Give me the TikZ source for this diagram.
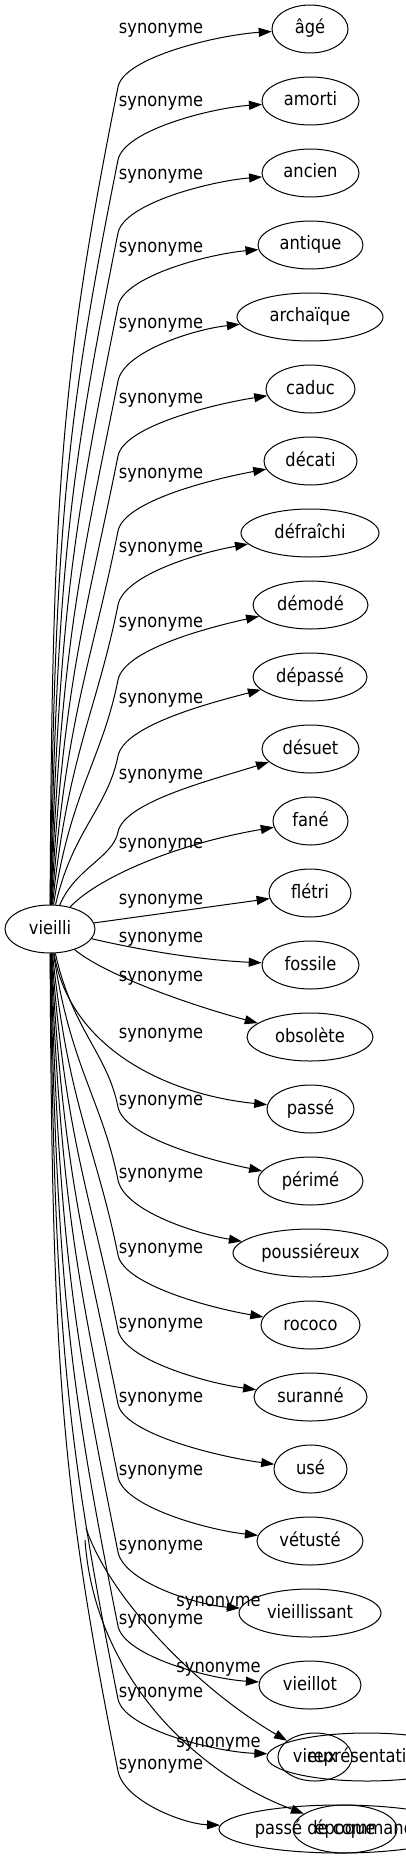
\documentclass[tikz,border=0pt]{standalone}
\usepackage{fontspec}
\setmainfont{DejaVu Sans}[FakeStretch=0.88]
\usetikzlibrary{shapes.geometric,arrows.meta}
\newcommand\upedge[3]{%
  \pgfmathsetmacro\edgD{905-#2}%
  \pgfmathsetmacro\edgax{52+25*(1-\edgD/820)}%
  \pgfmathsetmacro\edgay{905-0.5*\edgD}%
  \pgfmathsetmacro\edgbx{118-0.07*\edgD}%
  \pgfmathsetmacro\edgby{#2+0.35*\edgD}%
  \pgfmathsetmacro\edgdx{#3-0.35*(#3-118)}%
  \pgfmathsetmacro\edgdy{#2-52}%
  \coordinate (q#1) at (118,#2);%
  \draw[edge] (v) .. controls (\edgax,\edgay) and (\edgbx,\edgby) .. (q#1)
     .. controls (124,{#2-30}) and (\edgdx,\edgdy) .. (#1);%
}
\newcommand\downedge[3]{%
  \pgfmathsetmacro\edgD{#2-953}%
  \pgfmathsetmacro\edgax{52+25*(1-\edgD/820)}%
  \pgfmathsetmacro\edgay{953+0.5*\edgD}%
  \pgfmathsetmacro\edgbx{118-0.07*\edgD}%
  \pgfmathsetmacro\edgby{#2-0.35*\edgD}%
  \pgfmathsetmacro\edgdx{#3-0.35*(#3-118)}%
  \pgfmathsetmacro\edgdy{#2+53}%
  \coordinate (q#1) at (118,#2);%
  \draw[edge] (v) .. controls (\edgax,\edgay) and (\edgbx,\edgby) .. (q#1)
     .. controls (124,{#2+30}) and (\edgdx,\edgdy) .. (#1);%
}
\begin{document}
\begin{tikzpicture}[x=1pt,y=-1pt,
  every node/.style={font=\fontsize{18.5pt}{20pt}\selectfont, text height=14pt, text depth=4pt, inner sep=0pt},
  term/.style={draw, ellipse, line width=1pt, minimum height=48pt},
  lbl/.style={fill=none},
  edge/.style={line width=1pt, -{Triangle[length=13pt,width=9pt]}}]
\useasboundingbox (0,0) rectangle (406,1859);
\clip (0,0) rectangle (406,1859);

% centre node
\node[term, minimum width=90pt] (v) at (50,929) {vieilli};

% synonyms
\node[term, minimum width=76pt]  (n0)  at (310,29)    {âgé};
\node[term, minimum width=97pt]  (n1)  at (310.5,101) {amorti};
\node[term, minimum width=97pt]  (n2)  at (310.5,173) {ancien};
\node[term, minimum width=105pt] (n3)  at (310.5,245) {antique};
\node[term, minimum width=146pt] (n4)  at (310,317)   {archaïque};
\node[term, minimum width=89pt]  (n5)  at (310.5,389) {caduc};
\node[term, minimum width=93pt]  (n6)  at (310.5,461) {décati};
\node[term, minimum width=138pt] (n7)  at (310,533)   {défraîchi};
\node[term, minimum width=115pt] (n8)  at (310.5,605) {démodé};
\node[term, minimum width=114pt] (n9)  at (310,677)   {dépassé};
\node[term, minimum width=97pt]  (n10) at (310.5,749) {désuet};
\node[term, minimum width=75pt]  (n11) at (310.5,821) {fané};
\node[term, minimum width=82pt]  (n12) at (310,893)   {flétri};
\node[term, minimum width=97pt]  (n13) at (310.5,965) {fossile};
\node[term, minimum width=126pt] (n14) at (310,1037)  {obsolète};
\node[term, minimum width=87pt]  (n15) at (310.5,1109){passé};
\node[term, minimum width=105pt] (n16) at (310.5,1181){périmé};
\node[term, minimum width=155pt] (n17) at (310.5,1253){poussiéreux};
\node[term, minimum width=99pt]  (n18) at (310.5,1325){rococo};
\node[term, minimum width=113pt] (n19) at (310.5,1397){suranné};
\node[term, minimum width=73pt]  (n20) at (310.5,1469){usé};
\node[term, minimum width=106pt] (n21) at (310,1541)  {vétusté};
\node[term, minimum width=142pt] (n22) at (310,1613)  {vieillissant};
\node[term, minimum width=102pt] (n23) at (310,1685)  {vieillot};
\node[term, minimum width=200pt] (n24a) at (367,1757) {représentation};
\node[term, minimum width=74pt]  (n24) at (315,1757)  {vieux};
\node[term, minimum width=241pt] (n25a) at (339.5,1829) {passé de commande};
\node[term, minimum width=104pt] (n25) at (345,1829)  {époque};

% edge labels
\foreach \ly [count=\k] in {29,102,175,248,323,398,473,547,622,698,774,843,
  899,937,976,1033,1100,1173,1248,1323,1397,1470,1545,1619,1692,1764}
  \node[lbl] (l\k) at (161,\ly) {synonyme};
\node[lbl] (x1) at (218.5,1601) {synonyme};
\node[lbl] (x2) at (218.5,1667) {synonyme};
\node[lbl] (x3) at (218.5,1742) {synonyme};

% upper edges
\upedge{n0}{87}{272}
\upedge{n1}{160}{262}
\upedge{n2}{233}{262}
\upedge{n3}{306}{258}
\upedge{n4}{381}{237}
\upedge{n5}{456}{266}
\upedge{n6}{531}{264}
\upedge{n7}{605}{241}
\upedge{n8}{680}{253}
\upedge{n9}{756}{253}
\upedge{n10}{832}{262}

% middle edges
\draw[edge] (v) .. controls (95,880) and (170,845) .. (n11);
\draw[edge] (v) -- (n12);
\draw[edge] (v) .. controls (140,950) and (200,960) .. (n13);
\draw[edge] (v) .. controls (105,975) and (190,1005) .. (n14);
\draw[edge] (v) .. controls (70,1050) and (170,1095) .. (n15);

% lower edges
\downedge{n16}{1107}{258}
\downedge{n17}{1180}{233}
\downedge{n18}{1255}{261}
\downedge{n19}{1330}{254}
\downedge{n20}{1404}{274}
\downedge{n21}{1477}{257}
\downedge{n22}{1552}{239}
\downedge{n23}{1626}{259}
\downedge{n24a}{1699}{267}
\downedge{n25a}{1771}{219}

% stray edges
\coordinate (f1) at (86,1528);
\coordinate (f2) at (85,1540);
\draw[edge] (f1) .. controls (110,1600) and (200,1690) .. (n24);
\draw[edge] (f2) .. controls (95,1680) and (200,1775) .. (n25);
\end{tikzpicture}
\end{document}
